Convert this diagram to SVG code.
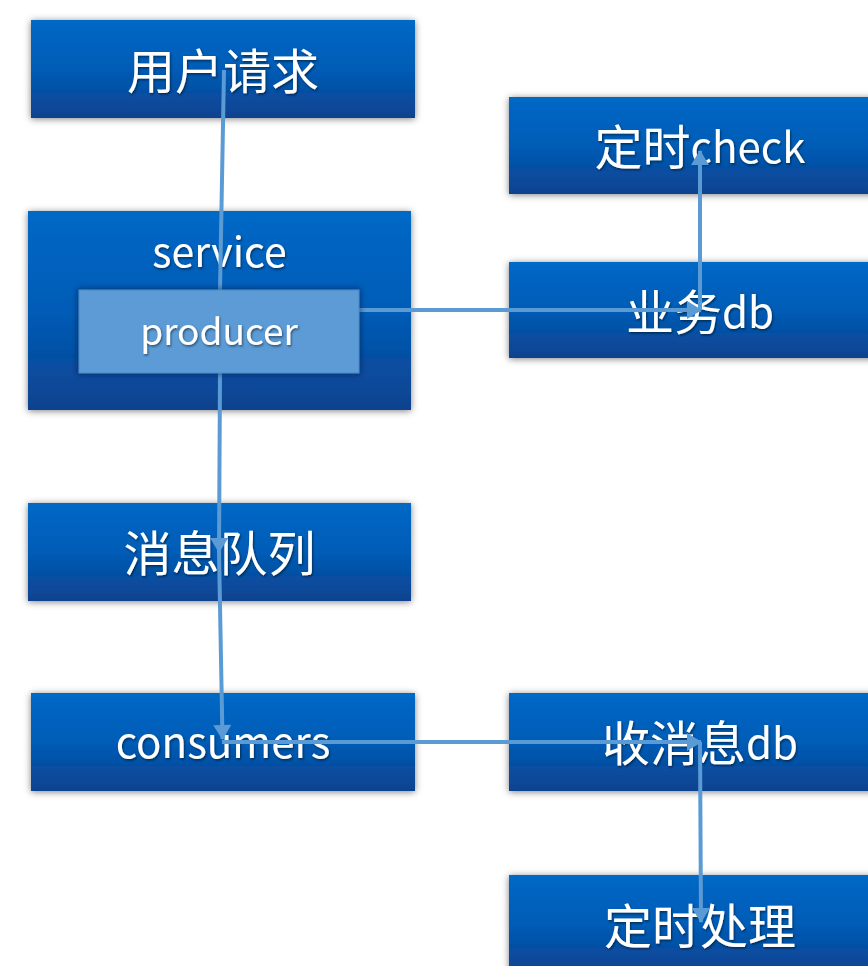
<svg xmlns="http://www.w3.org/2000/svg" width="868" height="966" viewBox="0 0 868 966">
<defs>
<linearGradient id="g" x1="0" y1="0" x2="0" y2="1">
<stop offset="0" stop-color="#0068c6"/>
<stop offset="0.5" stop-color="#005cb6"/>
<stop offset="1" stop-color="#0d428f"/>
</linearGradient>
<filter id="sh" x="-10%" y="-20%" width="120%" height="140%">
<feDropShadow dx="0" dy="1" stdDeviation="3.5" flood-color="#000" flood-opacity="0.5"/>
</filter>
<filter id="shp" x="-10%" y="-20%" width="120%" height="140%">
<feDropShadow dx="0" dy="0" stdDeviation="3" flood-color="#001a40" flood-opacity="0.8"/>
</filter>
<filter id="ts" x="-10%" y="-20%" width="120%" height="140%">
<feDropShadow dx="1" dy="1.5" stdDeviation="1" flood-color="#000" flood-opacity="0.5"/>
</filter>
<marker id="arr" markerUnits="userSpaceOnUse" markerWidth="16" markerHeight="18" viewBox="0 0 15 18" refX="14" refY="9" orient="auto">
<path d="M0,0 L15,9 L0,18 Z" fill="#5b9bd5"/>
</marker>
</defs>
<style>
.box{fill:url(#g);filter:url(#sh);}
.t{fill:#fff;font-family:"Noto Sans CJK SC","Noto Sans",sans-serif;text-anchor:middle;dominant-baseline:central;filter:url(#ts);}
.cj{font-size:48px;}
.lt{font-size:42px;}
.c{fill:none;stroke:#5b9bd5;stroke-width:4;}
</style>
<rect width="868" height="966" fill="#fff"/>
<g id="yonghu-qingqiu"><rect class="box" x="31" y="20" width="384" height="98"/><text class="t cj" x="223" y="67.5">用户请求</text></g>
<g id="service"><rect class="box" x="28" y="211" width="383" height="199"/><text class="t" style="font-size:41px" x="219.5" y="249">service</text></g>
<g id="dingshi-check"><rect class="box" x="509" y="97" width="383" height="97"/><text class="t cj" x="700" y="143.5">定时<tspan class="lt">check</tspan></text></g>
<g id="yewu-db"><rect class="box" x="509" y="262" width="383" height="96"/><text class="t cj" x="700" y="308.5">业务<tspan class="lt">db</tspan></text></g>
<g id="xiaoxi-duilie"><rect class="box" x="28" y="503" width="383" height="98"/><text class="t cj" x="219.5" y="549.5">消息队列</text></g>
<g id="consumers"><rect class="box" x="31" y="693" width="384" height="98"/><text class="t" style="font-size:42px" x="223" y="739.5">consumers</text></g>
<g id="shou-xiaoxi-db"><rect class="box" x="509" y="693" width="383" height="98"/><text class="t cj" x="700" y="740">收消息<tspan class="lt">db</tspan></text></g>
<g id="dingshi-chuli"><rect class="box" x="509" y="875" width="383" height="98"/><text class="t cj" x="700" y="922.5">定时处理</text></g>
<g id="connectors">
<path class="c" d="M224,70 L220,290"/>
<path class="c" d="M220,373 L219,552" marker-end="url(#arr)"/>
<path class="c" d="M219,552 L222.5,739" marker-end="url(#arr)"/>
<path class="c" d="M222,742 L701,742" marker-end="url(#arr)"/>
<path class="c" d="M700,742 L701,922" marker-end="url(#arr)"/>
<path class="c" d="M359,310 L701,310" marker-end="url(#arr)"/>
<path class="c" d="M700,310 L700,151" marker-end="url(#arr)"/>
</g>
<g id="producer"><rect x="79" y="290" width="280" height="83" fill="#5b9bd5" stroke="#4a88c9" stroke-width="1" filter="url(#shp)"/><text class="t" style="font-size:37px" x="219" y="329">producer</text></g>
</svg>
